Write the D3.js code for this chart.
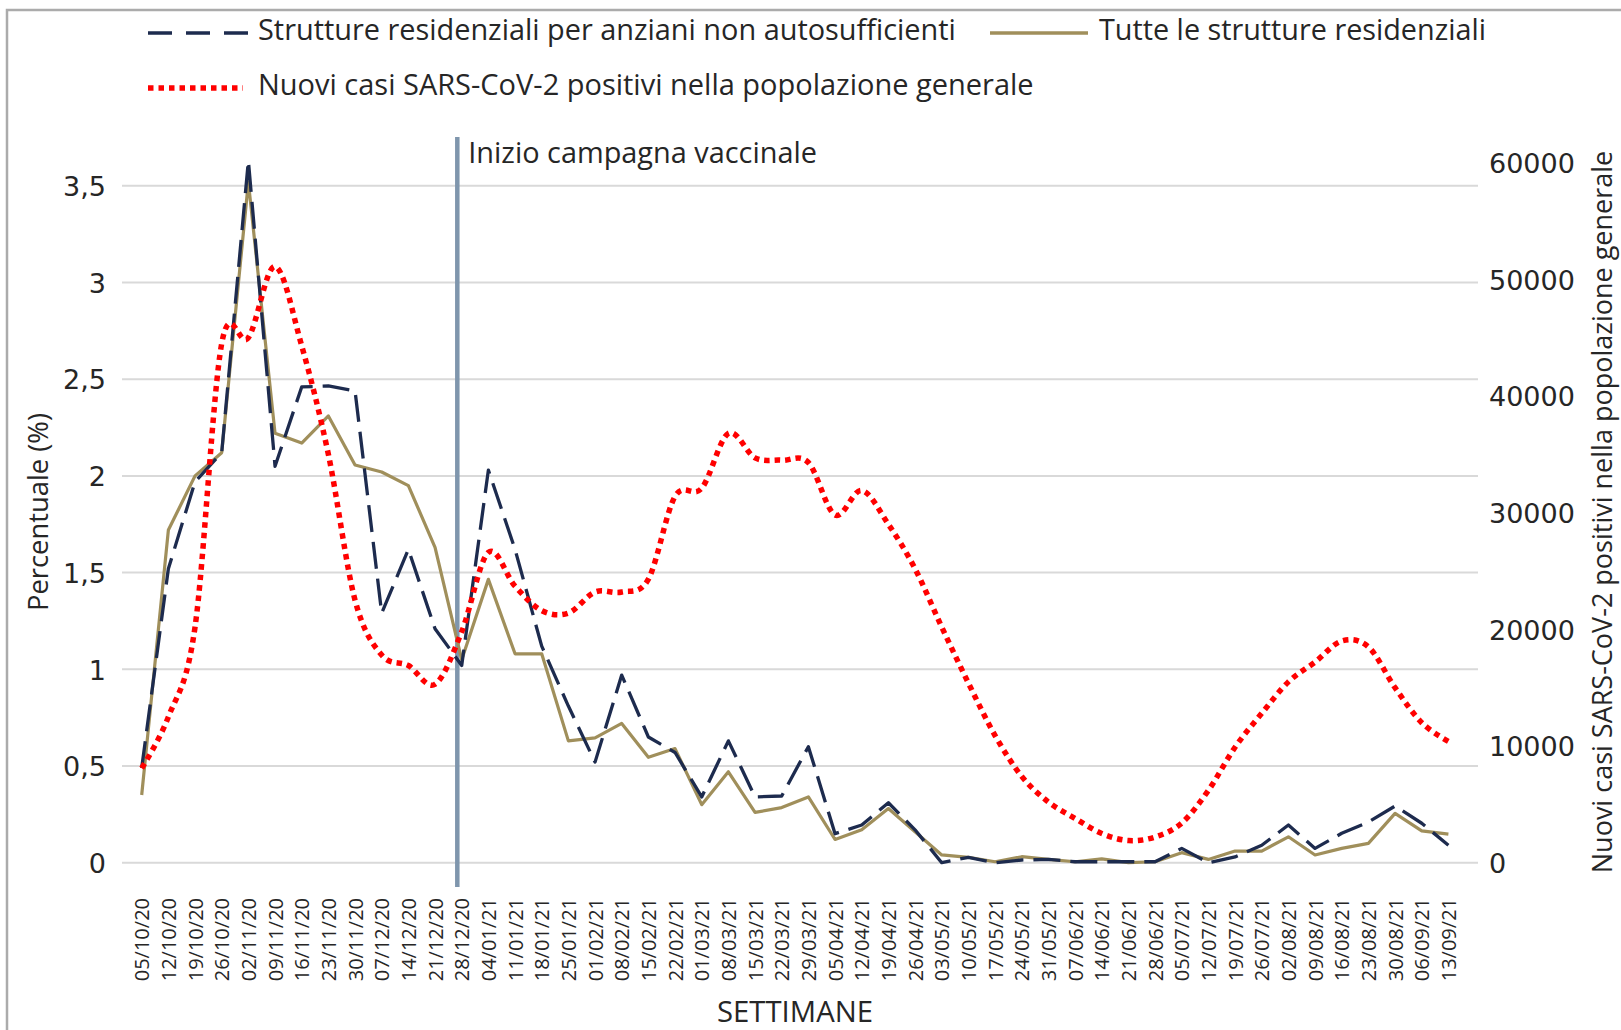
<!DOCTYPE html>
<html><head><meta charset="utf-8">
<script src="https://cdn.jsdelivr.net/npm/d3@7/dist/d3.min.js"></script>
<style>body{margin:0;background:#fff}svg{display:block}</style>
</head><body>
<svg id="chart" width="1621" height="1030"></svg>
<script>
const categories = ["05/10/20","12/10/20","19/10/20","26/10/20","02/11/20","09/11/20","16/11/20","23/11/20","30/11/20","07/12/20","14/12/20","21/12/20","28/12/20","04/01/21","11/01/21","18/01/21","25/01/21","01/02/21","08/02/21","15/02/21","22/02/21","01/03/21","08/03/21","15/03/21","22/03/21","29/03/21","05/04/21","12/04/21","19/04/21","26/04/21","03/05/21","10/05/21","17/05/21","24/05/21","31/05/21","07/06/21","14/06/21","21/06/21","28/06/21","05/07/21","12/07/21","19/07/21","26/07/21","02/08/21","09/08/21","16/08/21","23/08/21","30/08/21","06/09/21","13/09/21"];
const rsaValues = [0.49,1.52,1.97,2.12,3.63,2.05,2.46,2.465,2.44,1.29,1.62,1.21,1.02,2.03,1.62,1.12,0.81,0.52,0.97,0.65,0.57,0.34,0.63,0.34,0.345,0.60,0.15,0.195,0.31,0.17,0.0,0.028,0.0,0.014,0.017,0.005,0.005,0.005,0.005,0.074,0.0,0.03,0.09,0.195,0.074,0.152,0.21,0.293,0.204,0.09];
const allValues = [0.35,1.72,2.0,2.12,3.52,2.22,2.17,2.31,2.056,2.02,1.95,1.63,1.05,1.465,1.08,1.08,0.63,0.645,0.72,0.545,0.59,0.30,0.47,0.26,0.285,0.34,0.12,0.17,0.28,0.16,0.04,0.028,0.005,0.031,0.017,0.005,0.02,0.0,0.005,0.052,0.017,0.06,0.06,0.134,0.04,0.074,0.10,0.255,0.165,0.148];
const newCases = [8100,12500,20200,44500,45000,51100,44300,35000,22500,17800,16900,15300,19800,26600,23700,21600,21400,23200,23200,24300,31400,32100,36800,34700,34500,34300,29800,31900,29000,25200,20200,15400,10900,7400,5200,3800,2500,1900,2200,3400,6200,9900,12800,15500,17200,19000,18500,15000,12000,10400];
const leftTicks = [0,0.5,1,1.5,2,2.5,3,3.5];
const leftTickLabels = ["0","0,5","1","1,5","2","2,5","3","3,5"];
const rightTicks = [0,10000,20000,30000,40000,50000,60000];
const seriesNames = ["Strutture residenziali per anziani non autosufficienti","Tutte le strutture residenziali","Nuovi casi SARS-CoV-2 positivi nella popolazione generale"];
const vaccineCategory = "28/12/20";
const vaccineLabel = "Inizio campagna vaccinale";
const leftTitle = "Percentuale (%)";
const rightTitle = "Nuovi casi SARS-CoV-2 positivi nella popolazione generale";
const xTitle = "SETTIMANE";

const FONT = "'Open Sans', sans-serif";
const NUMFONT = "'DejaVu Sans', Verdana, sans-serif";
const C_RSA = "#1d2b4e", C_ALL = "#a08f5b", C_NEW = "#ff0000", C_VAC = "#7f96ad", C_GRID = "#d9d9d9", C_TXT = "#262626";

const svg = d3.select("#chart");
svg.append("rect").attr("width",1621).attr("height",1030).attr("fill","#fff");
svg.append("rect").attr("x",7).attr("y",10).attr("width",1700).attr("height",1200)
  .attr("fill","none").attr("stroke","#ababab").attr("stroke-width",2.5);

const x = d3.scalePoint().domain(categories).range([141.7,1448.4]);
const yL = d3.scaleLinear().domain([0,3.62]).range([862.7,162.6]);
const yR = d3.scaleLinear().domain([0,60000]).range([862.7,162.7]);

function fit(sel, target){
  const w = sel.node().getComputedTextLength();
  const fs = parseFloat(sel.attr("font-size"));
  sel.attr("font-size", fs*target/w);
  return sel;
}

// gridlines
svg.append("g").selectAll("line").data(leftTicks).join("line")
  .attr("x1",122).attr("x2",1478)
  .attr("y1",d=>yL(d)).attr("y2",d=>yL(d))
  .attr("stroke",C_GRID).attr("stroke-width",2);

// left axis
const gL = svg.append("g").attr("transform","translate(106,0)")
  .call(d3.axisLeft(yL).tickValues(leftTicks).tickFormat((d,i)=>leftTickLabels[i]).tickSize(0).tickPadding(0));
gL.select(".domain").remove();
gL.selectAll("text").attr("font-family",NUMFONT).attr("font-size",27).attr("fill",C_TXT).attr("dy","0.36em");

// right axis
const gR = svg.append("g").attr("transform","translate(1489,0)")
  .call(d3.axisRight(yR).tickValues(rightTicks).tickFormat(d3.format("d")).tickSize(0).tickPadding(0));
gR.select(".domain").remove();
gR.selectAll("text").attr("font-family",NUMFONT).attr("font-size",27).attr("fill",C_TXT).attr("dy","0.36em");

// x axis labels
const gX = svg.append("g").attr("transform","translate(0,898)")
  .call(d3.axisBottom(x).tickSize(0).tickPadding(0));
gX.select(".domain").remove();
gX.selectAll("text").attr("font-family",FONT).attr("font-size",20).attr("fill",C_TXT)
  .attr("text-anchor","end").attr("transform","rotate(-90)").attr("x",0).attr("y",0).attr("dy","0.36em");

// vaccine line
const step = x.step();
const xv = x(vaccineCategory) - 0.165*step;
svg.append("line").attr("x1",xv).attr("x2",xv).attr("y1",137).attr("y2",887)
  .attr("stroke",C_VAC).attr("stroke-width",4.5);
fit(svg.append("text").attr("x",xv+11).attr("y",163).attr("font-family",FONT).attr("font-size",25).attr("fill",C_TXT).text(vaccineLabel),349);

// lines
const lineL = d3.line().x((d,i)=>x(categories[i])).y(d=>yL(d));
const lineR = d3.line().x((d,i)=>x(categories[i])).y(d=>yR(d)).curve(d3.curveCardinal.tension(0));
svg.append("path").datum(allValues).attr("d",lineL).attr("fill","none")
  .attr("stroke",C_ALL).attr("stroke-width",3.2).attr("stroke-linejoin","round");
svg.append("path").datum(rsaValues).attr("d",lineL).attr("fill","none")
  .attr("stroke",C_RSA).attr("stroke-width",3.3).attr("stroke-dasharray","27,10").attr("stroke-linejoin","round");
svg.append("path").datum(newCases).attr("d",lineR).attr("fill","none")
  .attr("stroke",C_NEW).attr("stroke-width",5.5).attr("stroke-dasharray","5.5,5");

// axis titles
fit(svg.append("text").attr("transform","translate(38,512) rotate(-90)").attr("text-anchor","middle").attr("dy","0.36em")
  .attr("font-family",FONT).attr("font-size",23).attr("fill",C_TXT).text(leftTitle),198);
fit(svg.append("text").attr("transform","translate(1602,512) rotate(-90)").attr("text-anchor","middle").attr("dy","0.36em")
  .attr("font-family",FONT).attr("font-size",23).attr("fill",C_TXT).text(rightTitle),723);
fit(svg.append("text").attr("x",795).attr("y",1022).attr("text-anchor","middle")
  .attr("font-family",FONT).attr("font-size",25).attr("fill",C_TXT).text(xTitle),156);

// legend
const lg = svg.append("g");
lg.append("line").attr("x1",148).attr("x2",248).attr("y1",33).attr("y2",33)
  .attr("stroke",C_RSA).attr("stroke-width",3.3).attr("stroke-dasharray","24,14");
fit(lg.append("text").attr("x",258).attr("y",40).attr("font-family",FONT).attr("font-size",24).attr("fill",C_TXT).text(seriesNames[0]),698);
lg.append("line").attr("x1",990).attr("x2",1088).attr("y1",33).attr("y2",33)
  .attr("stroke",C_ALL).attr("stroke-width",3.5);
fit(lg.append("text").attr("x",1099).attr("y",40).attr("font-family",FONT).attr("font-size",24).attr("fill",C_TXT).text(seriesNames[1]),387);
lg.append("line").attr("x1",148).attr("x2",243).attr("y1",88).attr("y2",88)
  .attr("stroke",C_NEW).attr("stroke-width",5.5).attr("stroke-dasharray","5.5,5");
fit(lg.append("text").attr("x",258).attr("y",95).attr("font-family",FONT).attr("font-size",24).attr("fill",C_TXT).text(seriesNames[2]),776);
</script>
</body></html>
